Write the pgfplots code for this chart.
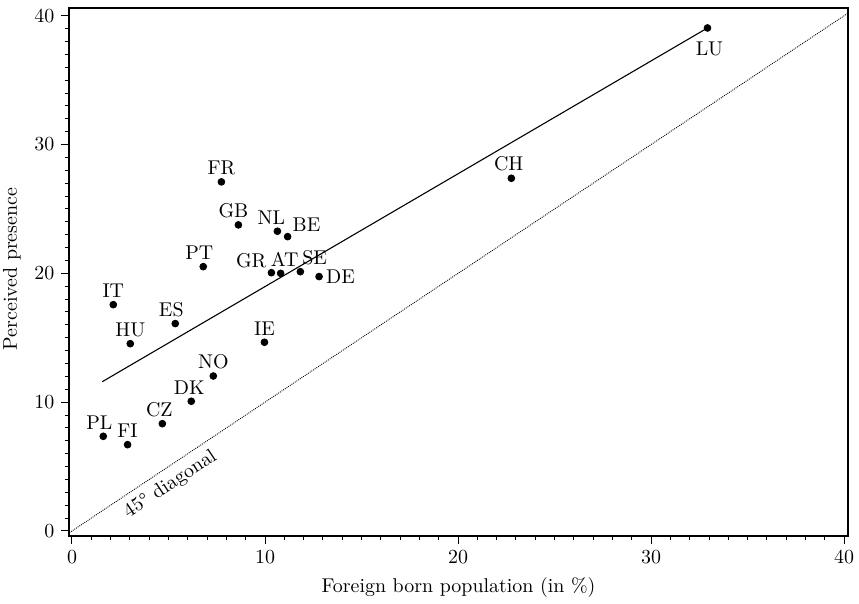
\documentclass[border=0pt]{standalone}
\usepackage{pgfplots}
\usepackage{pgfplotstable}
\pgfplotsset{compat=1.18}

\pgfplotstableread{
x y label
7.74 27.10 FR
8.62 23.76 GB
10.64 23.27 NL
11.17 22.85 BE
6.80 20.52 PT
10.33 20.05 GR
10.81 20.00 AT
11.83 20.13 SE
12.80 19.75 DE
2.14 17.57 IT
5.35 16.10 ES
3.02 14.54 HU
9.97 14.65 IE
7.32 12.03 NO
6.18 10.07 DK
4.68 8.33 CZ
1.62 7.35 PL
2.88 6.70 FI
22.76 27.38 CH
32.92 39.05 LU
}\countries

\begin{document}
\begin{tikzpicture}
\begin{axis}[
  scale only axis,
  width=389.5bp, height=264bp,
  xmin=-0.155, xmax=40.2, ymin=-0.39, ymax=40.6,
  xtick={0,10,20,30,40}, ytick={0,10,20,30,40},
  minor x tick num=9, minor y tick num=9,
  xtick pos=bottom, ytick pos=left,
  tick align=outside,
  major tick length=3.8bp, minor tick length=2.2bp,
  every tick/.style={black, line width=0.5pt},
  axis line style={line width=0.6pt},
  xlabel={Foreign born population (in \%)},
  ylabel={Perceived presence},
  ylabel style={xshift=1.5bp},
  clip=true,
]
% 45 degree diagonal
\addplot[black, line width=0.45pt, dash pattern=on 0.45pt off 0.55pt] coordinates {(-0.39,-0.39) (40.6,40.6)};
% regression line
\addplot[black, line width=0.55pt] coordinates {(1.57,11.59) (32.92,39.05)};
% points
\addplot[only marks, mark=*, mark size=1.7bp, mark options={fill=black, draw=black}]
  table[x=x, y=y] {\countries};
% labels
\begin{scope}[every node/.style={font=\normalsize, text=black}]
\node[anchor=south] at (axis cs:7.74,27.10) {FR};
\node[anchor=south, xshift=-2.5bp] at (axis cs:8.62,23.76) {GB};
\node[anchor=south, xshift=-3bp] at (axis cs:10.64,23.27) {NL};
\node[anchor=south west, xshift=-1bp, yshift=-1bp] at (axis cs:11.17,22.85) {BE};
\node[anchor=south, xshift=-2bp] at (axis cs:6.80,20.52) {PT};
\node[anchor=south east, xshift=1bp, yshift=-1bp] at (axis cs:10.33,20.05) {GR};
\node[anchor=south, xshift=2bp] at (axis cs:10.81,20.00) {AT};
\node[anchor=south west, xshift=-2.5bp] at (axis cs:11.83,20.13) {SE};
\node[anchor=west] at (axis cs:12.80,19.75) {DE};
\node[anchor=south] at (axis cs:2.14,17.57) {IT};
\node[anchor=south, xshift=-2bp] at (axis cs:5.35,16.10) {ES};
\node[anchor=south] at (axis cs:3.02,14.54) {HU};
\node[anchor=south] at (axis cs:9.97,14.65) {IE};
\node[anchor=south] at (axis cs:7.32,12.03) {NO};
\node[anchor=south, xshift=-1bp] at (axis cs:6.18,10.07) {DK};
\node[anchor=south, xshift=-1.5bp] at (axis cs:4.68,8.33) {CZ};
\node[anchor=south, xshift=-2bp] at (axis cs:1.62,7.35) {PL};
\node[anchor=south] at (axis cs:2.88,6.70) {FI};
\node[anchor=south, xshift=-1.3bp] at (axis cs:22.76,27.38) {CH};
\node[anchor=north, xshift=1bp, yshift=-3.5bp] at (axis cs:32.92,39.05) {LU};
\end{scope}
\node[rotate=33.7, font=\normalsize, inner sep=0pt] at (axis cs:5.1,3.6) {45\textdegree{} diagonal};
\end{axis}
\pgfresetboundingbox
\path ([shift={(-34.5bp,-34bp)}]current axis.south west) rectangle ([shift={(5.5bp,4bp)}]current axis.north east);
\end{tikzpicture}
\end{document}
